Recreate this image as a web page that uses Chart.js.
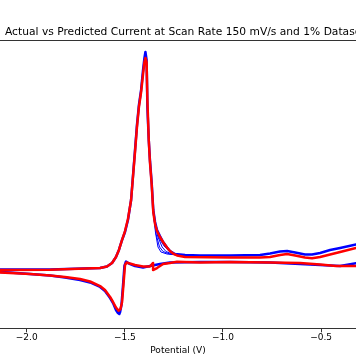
<!DOCTYPE html>
<html>
<head>
<meta charset="utf-8">
<script src="https://cdn.jsdelivr.net/npm/chart.js@4/dist/chart.umd.min.js"></script>
<style>
  html, body { margin: 0; padding: 0; background: #fff; }
  canvas { display: block; }
</style>
</head>
<body>
<canvas id="cvChart" width="356" height="364"></canvas>
<script>
// 標題與軸
const titleText = 'Actual vs Predicted Current at Scan Rate 150 mV/s and 1% Dataset';
const xLabel = 'Potential (V)';
const xTicks = [-2.0, -1.5, -1.0, -0.5];

// 實際電流（藍色），主要循環：先往負方向掃描，再返回
const actualV = [-0.20, -0.322, -0.403, -0.505, -0.607, -0.760, -0.964, -1.117, -1.270, -1.321, -1.372, -1.407, -1.448, -1.479, -1.494, -1.502, -1.509, -1.517, -1.524, -1.528, -1.535, -1.545, -1.560, -1.575, -1.601, -1.626, -1.677, -1.728, -1.805, -1.881, -1.983, -2.085, -2.14, -2.20,
  -2.20, -2.14, -1.881, -1.626, -1.591, -1.565, -1.545, -1.530, -1.514, -1.499, -1.484, -1.468, -1.458, -1.448, -1.438, -1.428, -1.417, -1.407, -1.400, -1.395, -1.389, -1.385, -1.378, -1.372, -1.363, -1.355, -1.346, -1.336, -1.321, -1.305, -1.285, -1.270, -1.244, -1.193, -1.117, -0.964, -0.811, -0.760, -0.709, -0.673, -0.632, -0.582, -0.546, -0.505, -0.454, -0.403, -0.322, -0.20, -0.20];
const actualI = [0.70, 0.76, 0.48, 0.59, 0.69, 0.85, 0.90, 0.90, 0.85, 0.69, 0.48, 0.33, 0.48, 0.74, 0.95, 0.48, -1.49, -3.58, -4.30, -4.51, -4.41, -4.10, -3.37, -2.85, -2.12, -1.70, -1.23, -0.97, -0.71, -0.51, -0.35, -0.19, -0.14, -0.10,
  0.07, 0.12, 0.12, 0.27, 0.43, 0.80, 1.42, 2.15, 3.19, 4.02, 5.27, 7.35, 9.95, 12.55, 15.16, 17.24, 18.80, 20.88, 22.13, 22.75, 21.92, 17.03, 13.59, 11.51, 9.12, 6.31, 5.06, 4.23, 3.60, 2.98, 2.41, 2.04, 1.73, 1.63, 1.58, 1.58, 1.63, 1.78, 1.99, 2.04, 1.89, 1.68, 1.68, 1.84, 2.15, 2.36, 2.72, 3.10, 0.70];

// 其他循環在峰後下降段的差異（藍色細線）
const fan1V = [-1.355, -1.344, -1.331, -1.316, -1.285, -1.234];
const fan1I = [6.10, 4.02, 2.46, 1.94, 1.73, 1.63];
const fan2V = [-1.355, -1.341, -1.323, -1.305, -1.270, -1.234];
const fan2I = [6.10, 3.81, 2.46, 1.99, 1.73, 1.63];
const fan3V = [-1.351, -1.333, -1.310, -1.290, -1.259, -1.234];
const fan3I = [5.69, 3.60, 2.46, 1.99, 1.73, 1.63];
const fan4V = [-1.346, -1.326, -1.300, -1.275, -1.249, -1.219];
const fan4I = [5.06, 3.40, 2.56, 2.04, 1.73, 1.63];

// 預測電流（紅色）
const predV = [-0.20, -0.322, -0.424, -0.505, -0.607, -0.760, -0.964, -1.117, -1.234, -1.270, -1.305, -1.336, -1.354, -1.356, -1.372, -1.407, -1.448, -1.474, -1.491, -1.499, -1.507, -1.514, -1.522, -1.532, -1.545, -1.560, -1.575, -1.601, -1.626, -1.677, -1.728, -1.805, -1.881, -1.983, -2.14, -2.20,
  -2.20, -2.14, -1.881, -1.626, -1.591, -1.565, -1.545, -1.530, -1.514, -1.499, -1.484, -1.468, -1.458, -1.448, -1.438, -1.428, -1.417, -1.407, -1.400, -1.395, -1.389, -1.385, -1.378, -1.372, -1.363, -1.355, -1.346, -1.336, -1.321, -1.305, -1.285, -1.270, -1.254, -1.234, -1.193, -0.964, -0.811, -0.760, -0.709, -0.673, -0.632, -0.582, -0.546, -0.505, -0.454, -0.403, -0.322, -0.20, -0.20];
const predI = [0.40, 0.48, 0.48, 0.64, 0.80, 0.85, 0.90, 0.85, 0.93, 0.80, 0.69, 0.27, 0.07, 0.80, 0.43, 0.43, 0.59, 0.74, 0.85, 0.59, -1.49, -3.26, -3.99, -4.17, -3.84, -3.26, -2.74, -2.01, -1.60, -1.13, -0.87, -0.66, -0.51, -0.35, -0.19, -0.15,
  0.03, 0.07, 0.10, 0.27, 0.43, 0.80, 1.42, 2.15, 3.19, 4.12, 5.37, 7.35, 9.85, 12.35, 14.95, 17.03, 18.59, 20.46, 21.71, 22.13, 21.71, 17.76, 13.59, 11.31, 8.91, 6.10, 4.85, 4.12, 3.50, 2.98, 2.41, 2.04, 1.78, 1.58, 1.42, 1.37, 1.37, 1.42, 1.63, 1.73, 1.58, 1.37, 1.28, 1.42, 1.68, 1.94, 2.36, 2.70, 0.40];

function toPoints(vs, is) {
    return vs.map((v, i) => ({ x: v, y: is[i] }));
}

// 標題與上邊框
const framePlugin = {
    id: 'frame',
    afterDraw(chart) {
        const ctx = chart.ctx;
        const area = chart.chartArea;
        ctx.save();
        ctx.strokeStyle = '#333';
        ctx.lineWidth = 1;
        ctx.beginPath();
        ctx.moveTo(0, area.top + 0.5);
        ctx.lineTo(chart.width, area.top + 0.5);
        ctx.stroke();
        ctx.fillStyle = '#000';
        ctx.font = '10.7px "DejaVu Sans"';
        ctx.textAlign = 'left';
        ctx.textBaseline = 'alphabetic';
        ctx.fillText(titleText, 5, 35);
        ctx.restore();
    }
};

function lineSet(data, color, width, order) {
    return {
        data: data,
        borderColor: color,
        borderWidth: width,
        borderJoinStyle: 'round',
        borderCapStyle: 'round',
        pointRadius: 0,
        tension: 0,
        fill: false,
        order: order
    };
}

const ctx = document.getElementById('cvChart').getContext('2d');
new Chart(ctx, {
    type: 'line',
    data: {
        datasets: [
            lineSet(toPoints(predV, predI), '#ff0000', 2.5, 0),
            lineSet(toPoints(actualV, actualI), '#0000ff', 2.5, 1),
            lineSet(toPoints(fan1V, fan1I), '#0000ff', 1, 1),
            lineSet(toPoints(fan2V, fan2I), '#0000ff', 1, 1),
            lineSet(toPoints(fan3V, fan3I), '#0000ff', 1, 1),
            lineSet(toPoints(fan4V, fan4I), '#0000ff', 1, 1)
        ]
    },
    options: {
        responsive: false,
        animation: false,
        devicePixelRatio: 1,
        layout: { padding: { top: 40, left: 0, right: 0, bottom: 0 } },
        plugins: {
            legend: { display: false },
            tooltip: { enabled: false },
            title: { display: false }
        },
        scales: {
            x: {
                type: 'linear',
                min: -2.136,
                max: -0.322,
                afterBuildTicks: (axis) => {
                    axis.ticks = xTicks.map(v => ({ value: v }));
                },
                afterFit: (axis) => {
                    axis.height = 35.7;
                },
                ticks: {
                    color: '#000',
                    padding: 0,
                    font: { family: 'DejaVu Sans', size: 9 },
                    maxRotation: 0,
                    callback: (v) => (v < 0 ? '\u2212' : '') + Math.abs(v).toFixed(1)
                },
                grid: {
                    drawOnChartArea: false,
                    drawTicks: true,
                    tickLength: 4,
                    tickColor: '#333'
                },
                border: { display: true, color: '#333', width: 1 },
                title: {
                    display: true,
                    text: xLabel,
                    color: '#000',
                    font: { family: 'DejaVu Sans', size: 9 },
                    padding: { top: 2, bottom: 7.5 }
                }
            },
            y: {
                type: 'linear',
                display: false,
                min: -6,
                max: 24
            }
        }
    },
    plugins: [framePlugin]
});
</script>
</body>
</html>
